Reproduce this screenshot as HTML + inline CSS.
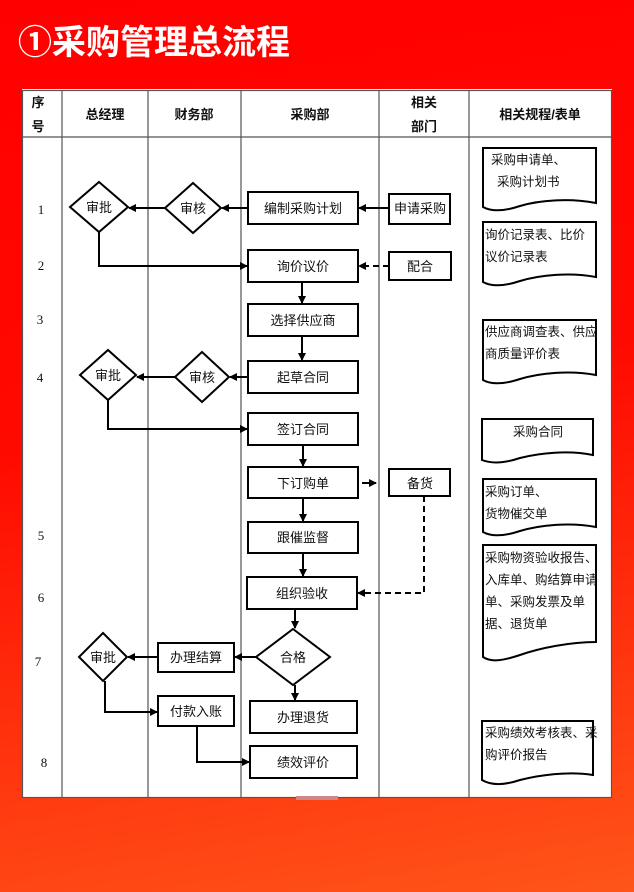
<!DOCTYPE html>
<html><head><meta charset="utf-8"><style>
html,body{margin:0;padding:0;width:634px;height:892px;overflow:hidden}
body{background:linear-gradient(170deg,#ff0000 0%,#ff0a00 45%,#ff3a10 80%,#ff5518 100%);font-family:"Liberation Sans","Noto Sans CJK SC",sans-serif}
</style></head><body>
<svg width="634" height="892" xmlns="http://www.w3.org/2000/svg" style="position:absolute;left:0;top:0;font-family:'Liberation Sans','Noto Sans CJK SC',sans-serif">
<defs><marker id="a" markerWidth="8" markerHeight="8" refX="7" refY="4" orient="auto" markerUnits="userSpaceOnUse"><path d="M0,0 L8,4 L0,8 Z" fill="#000"/></marker></defs>
<text x="18" y="54" font-size="34" font-weight="bold" fill="#fff">①采购管理总流程</text>
<rect x="22" y="89" width="590" height="709" fill="#fff"/>
<g stroke="#555" stroke-width="1.2" fill="none">
<rect x="22.5" y="90.5" width="589" height="707"/>
<line x1="62" y1="90" x2="62" y2="797"/><line x1="148" y1="90" x2="148" y2="797"/>
<line x1="241" y1="90" x2="241" y2="797"/><line x1="379" y1="90" x2="379" y2="797"/>
<line x1="469" y1="90" x2="469" y2="797"/><line x1="22" y1="137" x2="612" y2="137"/>
</g>
<rect x="296" y="796" width="42" height="4" fill="#c88"/>
<g font-size="13" font-weight="bold" text-anchor="middle" fill="#111">
<text x="38" y="107">序</text><text x="38" y="131">号</text>
<text x="105" y="119">总经理</text><text x="194" y="119">财务部</text><text x="310" y="119">采购部</text>
<text x="424" y="107">相关</text><text x="424" y="131">部门</text><text x="540" y="119">相关规程/表单</text>
</g>
<g font-size="13" text-anchor="middle" font-family="Liberation Serif,serif" fill="#111">
<text x="41" y="214">1</text><text x="41" y="270">2</text><text x="40" y="324">3</text><text x="40" y="382">4</text>
<text x="41" y="540">5</text><text x="41" y="602">6</text><text x="38" y="666">7</text><text x="44" y="767">8</text>
</g>
<g stroke="#000" stroke-width="2" fill="#fff">
<rect x="248" y="192" width="110" height="32"/><rect x="389" y="194" width="61" height="30"/>
<rect x="248" y="250" width="110" height="32"/><rect x="389" y="252" width="62" height="28"/>
<rect x="248" y="304" width="110" height="32"/><rect x="248" y="361" width="110" height="32"/>
<rect x="248" y="413" width="110" height="32"/><rect x="248" y="467" width="110" height="31"/>
<rect x="389" y="469" width="61" height="27"/><rect x="248" y="522" width="110" height="31"/>
<rect x="247" y="577" width="110" height="32"/><rect x="158" y="643" width="76" height="29"/>
<rect x="158" y="696" width="76" height="30"/><rect x="250" y="701" width="107" height="32"/>
<rect x="250" y="746" width="107" height="32"/>
<polygon points="99,182 128,207 99,232 70,207"/><polygon points="193,183 221,208 193,233 165,208"/>
<polygon points="108,350 136,375 108,400 80,375"/><polygon points="202,352 229,377 202,402 175,377"/>
<polygon points="293,629 330,657 293,685 256,657"/><polygon points="103,633 127,657 103,681 79,657"/>
</g>
<g stroke="#000" stroke-width="2" fill="none" marker-end="url(#a)">
<line x1="389" y1="208" x2="359" y2="208"/><line x1="248" y1="208" x2="222" y2="208"/><line x1="165" y1="208" x2="129" y2="208"/>
<polyline points="99,232 99,266 247,266"/>
<line x1="389" y1="266" x2="359" y2="266" stroke-dasharray="6,4"/>
<line x1="302" y1="282" x2="302" y2="303"/><line x1="302" y1="336" x2="302" y2="360"/>
<line x1="248" y1="377" x2="230" y2="377"/><line x1="175" y1="377" x2="137" y2="377"/>
<polyline points="108,400 108,429 247,429"/>
<line x1="303" y1="445" x2="303" y2="466"/>
<line x1="362" y1="483" x2="376" y2="483"/>
<line x1="303" y1="498" x2="303" y2="521"/><line x1="303" y1="553" x2="303" y2="576"/>
<polyline points="424,496 424,593 358,593" stroke-dasharray="6,4"/>
<line x1="295" y1="609" x2="295" y2="628"/>
<line x1="256" y1="657" x2="235" y2="657"/><line x1="158" y1="657" x2="128" y2="657"/>
<line x1="295" y1="685" x2="295" y2="700"/>
<polyline points="105,681 105,712 157,712"/>
<polyline points="197,726 197,762 249,762"/>
</g>
<g font-size="13" text-anchor="middle" fill="#111">
<text x="303" y="213">编制采购计划</text><text x="420" y="213">申请采购</text>
<text x="303" y="271">询价议价</text><text x="420" y="271">配合</text>
<text x="303" y="325">选择供应商</text><text x="303" y="382">起草合同</text>
<text x="303" y="434">签订合同</text><text x="303" y="488">下订购单</text><text x="420" y="488">备货</text>
<text x="303" y="542">跟催监督</text><text x="302" y="598">组织验收</text>
<text x="196" y="662">办理结算</text><text x="196" y="716">付款入账</text>
<text x="303" y="722">办理退货</text><text x="303" y="767">绩效评价</text>
<text x="99" y="212">审批</text><text x="193" y="213">审核</text>
<text x="108" y="380">审批</text><text x="202" y="382">审核</text>
<text x="293" y="662">合格</text><text x="103" y="662">审批</text>
</g>
<g stroke="#000" stroke-width="2" fill="#fff">
<path d="M483,148 H596 V203 C570,198 540,200 520,206 C505,211 492,212 483,207 Z"/>
<path d="M483,222 H596 V277 C570,272 540,275 520,281 C505,286 492,287 483,282 Z"/>
<path d="M483,320 H596 V375 C570,370 540,373 520,379 C505,384 492,385 483,380 Z"/>
<path d="M482,419 H593 V455 C568,450 540,453 520,458 C505,463 492,464 482,460 Z"/>
<path d="M483,479 H596 V527 C570,522 540,525 520,531 C505,536 492,537 483,532 Z"/>
<path d="M483,545 H596 V642 C570,642 540,648 520,655 C505,660 492,663 483,657 Z"/>
<path d="M482,721 H593 V775 C568,771 540,775 520,780 C505,785 492,786 482,780 Z"/>
</g>
<g font-size="12.5" fill="#111">
<text x="491" y="164">采购申请单、</text><text x="497" y="186">采购计划书</text>
<text x="485" y="239">询价记录表、比价</text><text x="485" y="261">议价记录表</text>
<text x="485" y="336">供应商调查表、供应</text><text x="485" y="358">商质量评价表</text>
<text x="513" y="436">采购合同</text>
<text x="485" y="496">采购订单、</text><text x="485" y="518">货物催交单</text>
<text x="485" y="562">采购物资验收报告、</text><text x="485" y="584">入库单、购结算申请</text>
<text x="485" y="606">单、采购发票及单</text><text x="485" y="628">据、退货单</text>
<text x="485" y="737">采购绩效考核表、采</text><text x="485" y="759">购评价报告</text>
</g>
</svg>
</body></html>
